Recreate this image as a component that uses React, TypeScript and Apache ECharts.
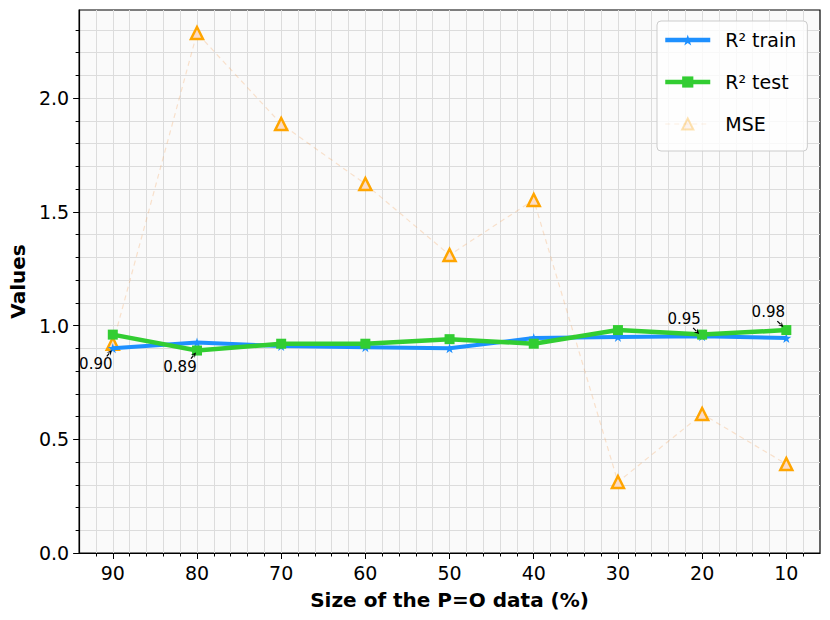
import React, { useEffect, useRef } from 'react';
import * as echarts from 'echarts';

const sizes = [90, 80, 70, 60, 50, 40, 30, 20, 10];
const r2Train = [0.9, 0.925, 0.91, 0.905, 0.9, 0.945, 0.95, 0.953, 0.945];
const r2Test = [0.96, 0.89, 0.92, 0.92, 0.94, 0.92, 0.98, 0.96, 0.98];
const mse = [0.92, 2.286, 1.886, 1.622, 1.31, 1.552, 0.312, 0.611, 0.391];

const xTicks = [90, 80, 70, 60, 50, 40, 30, 20, 10];
const yTicks = [0, 0.5, 1.0, 1.5, 2.0];
const xRange = [6, 94];
const yRange = [0, 2.387];

const annotations = [
  { x: 90, y: 0.9, text: '0.90' },
  { x: 80, y: 0.89, text: '0.89' },
  { x: 20, y: 0.95, text: '0.95' },
  { x: 10, y: 0.98, text: '0.98' },
];
// pixel offsets (layout only)
const annotationLayout = [
  { text: [-17, 16], tail: [-6, 8], tip: [-1, 2] },
  { text: [-17, 16], tail: [-6, 8], tip: [-1, 2] },
  { text: [-18, -18], tail: [-9, -9], tip: [-3, -3] },
  { text: [-18, -18], tail: [-9, -9], tip: [-3, -3] },
];

const FONT = '"DejaVu Sans", sans-serif';
const STAR =
  'path://M0,-1 L0.2245,-0.309 L0.951,-0.309 L0.363,0.118 L0.588,0.809 L0,0.382 L-0.588,0.809 L-0.363,0.118 L-0.951,-0.309 L-0.2245,-0.309 Z';

export default function App() {
  const ref = useRef<HTMLDivElement>(null);
  useEffect(() => {
    if (!ref.current) return;
    const chart = echarts.init(ref.current, undefined, { renderer: 'svg' });
    const minorX: number[] = [];
    for (let v = xRange[0] + 2; v < xRange[1]; v += 2) minorX.push(v);
    const minorY: number[] = [];
    for (let i = 1; i < 24; i++) minorY.push(Math.round(i * 10) / 100);

    const gridLine = { show: true, lineStyle: { color: '#dcdcdc', width: 1 } };
    const option: any = {
      animation: false,
      grid: {
        left: 79,
        right: 10,
        top: 10,
        bottom: 67,
        show: true,
        backgroundColor: '#fafafa',
        borderColor: '#000',
        borderWidth: 1.2,
      },
      legend: {
        orient: 'vertical',
        left: 657,
        top: 21,
        padding: [9, 11, 17, 6],
        itemWidth: 45,
        itemHeight: 14,
        itemGap: 22,
        backgroundColor: 'rgba(255,255,255,0.8)',
        borderColor: '#cccccc',
        borderWidth: 1,
        borderRadius: 4,
        textStyle: { fontFamily: FONT, fontSize: 19, color: '#000', lineHeight: 20, padding: [0, 0, 0, 10] },
        data: [
          { name: 'R² train', lineStyle: { width: 4.5 } },
          { name: 'R² test', lineStyle: { width: 4.5 } },
          { name: 'MSE', itemStyle: { opacity: 0.3 }, lineStyle: { opacity: 0.6, width: 1.2 } },
        ],
      },
      xAxis: [
        {
          type: 'value',
          min: xRange[0],
          max: xRange[1],
          inverse: true,
          position: 'bottom',
          axisLine: { show: true, onZero: false, lineStyle: { color: '#000', width: 1.2 } },
          axisTick: { show: true, length: 6, customValues: xTicks, lineStyle: { color: '#000' } },
          axisLabel: { customValues: xTicks, fontFamily: FONT, fontSize: 19, color: '#000', margin: 10 },
          splitLine: { show: false },
          name: 'Size of the P=O data (%)',
          nameLocation: 'middle',
          nameGap: 37,
          nameTextStyle: { fontFamily: FONT, fontSize: 20, fontWeight: 'bold', color: '#000' },
        },
        {
          type: 'value',
          min: xRange[0],
          max: xRange[1],
          inverse: true,
          position: 'bottom',
          axisLine: { show: false },
          axisTick: { show: true, length: 3.5, customValues: minorX, lineStyle: { color: '#000' } },
          axisLabel: { show: false },
          splitLine: gridLine,
        },
      ],
      yAxis: [
        {
          type: 'value',
          min: yRange[0],
          max: yRange[1],
          position: 'left',
          axisLine: { show: true, onZero: false, lineStyle: { color: '#000', width: 1.2 } },
          axisTick: { show: true, length: 6, customValues: yTicks, lineStyle: { color: '#000' } },
          axisLabel: {
            customValues: yTicks,
            fontFamily: FONT,
            fontSize: 19,
            color: '#000',
            margin: 10,
            formatter: (v: number) => v.toFixed(1),
          },
          splitLine: { show: false },
          name: 'Values',
          nameLocation: 'middle',
          nameGap: 50,
          nameTextStyle: { fontFamily: FONT, fontSize: 20, fontWeight: 'bold', color: '#000' },
        },
        {
          type: 'value',
          min: yRange[0],
          max: yRange[1],
          position: 'left',
          axisLine: { show: false },
          axisTick: { show: true, length: 3.5, customValues: minorY, lineStyle: { color: '#000' } },
          axisLabel: { show: false },
          splitLine: gridLine,
        },
      ],
      series: [
        {
          name: 'MSE',
          type: 'line',
          xAxisIndex: 0,
          yAxisIndex: 0,
          data: sizes.map((s, i) => [s, mse[i]]),
          symbol: 'triangle',
          symbolSize: 12,
          lineStyle: { color: 'rgba(244,164,96,0.3)', width: 1.2, type: [5, 4] },
          itemStyle: { color: 'rgba(250,220,200,1)', borderColor: '#ffa500', borderWidth: 2.5 },
          z: 1,
        },
        {
          name: 'R² train',
          type: 'line',
          xAxisIndex: 0,
          yAxisIndex: 0,
          data: sizes.map((s, i) => [s, r2Train[i]]),
          symbol: STAR,
          symbolSize: 10,
          lineStyle: { color: '#1e90ff', width: 4 },
          itemStyle: { color: '#1e90ff' },
          z: 2,
        },
        {
          name: 'R² test',
          type: 'line',
          xAxisIndex: 0,
          yAxisIndex: 0,
          data: sizes.map((s, i) => [s, r2Test[i]]),
          symbol: 'rect',
          symbolSize: 10,
          lineStyle: { color: '#32cd32', width: 4.5 },
          itemStyle: { color: '#32cd32' },
          z: 3,
        },
      ],
    };
    chart.setOption(option);

    const graphics: any[] = [];
    annotations.forEach((a, i) => {
      const p = chart.convertToPixel({ xAxisIndex: 0, yAxisIndex: 0 }, [a.x, a.y]) as number[];
      const L = annotationLayout[i];
      const tail = [p[0] + L.tail[0], p[1] + L.tail[1]];
      const tip = [p[0] + L.tip[0], p[1] + L.tip[1]];
      const dx = tip[0] - tail[0];
      const dy = tip[1] - tail[1];
      const len = Math.hypot(dx, dy) || 1;
      const ux = dx / len;
      const uy = dy / len;
      const nx = -uy;
      const ny = ux;
      const hl = 5;
      const hw = 2.6;
      graphics.push({
        type: 'text',
        x: p[0] + L.text[0],
        y: p[1] + L.text[1],
        z: 100,
        style: { text: a.text, fill: '#000', font: `15px ${FONT}`, align: 'center', verticalAlign: 'middle' },
      });
      graphics.push({
        type: 'line',
        z: 100,
        shape: { x1: tail[0], y1: tail[1], x2: tip[0] - ux * hl * 0.8, y2: tip[1] - uy * hl * 0.8 },
        style: { stroke: '#000', lineWidth: 1.2 },
      });
      graphics.push({
        type: 'polygon',
        z: 100,
        shape: {
          points: [
            [tip[0], tip[1]],
            [tip[0] - ux * hl + nx * hw, tip[1] - uy * hl + ny * hw],
            [tip[0] - ux * hl * 0.6, tip[1] - uy * hl * 0.6],
            [tip[0] - ux * hl - nx * hw, tip[1] - uy * hl - ny * hw],
          ],
        },
        style: { fill: '#000' },
      });
    });
    chart.setOption({ graphic: graphics });

    return () => chart.dispose();
  }, []);
  return (
    <div
      ref={ref}
      style={{ position: 'fixed', left: 0, top: 0, width: 830, height: 620, background: '#fff' }}
    />
  );
}
